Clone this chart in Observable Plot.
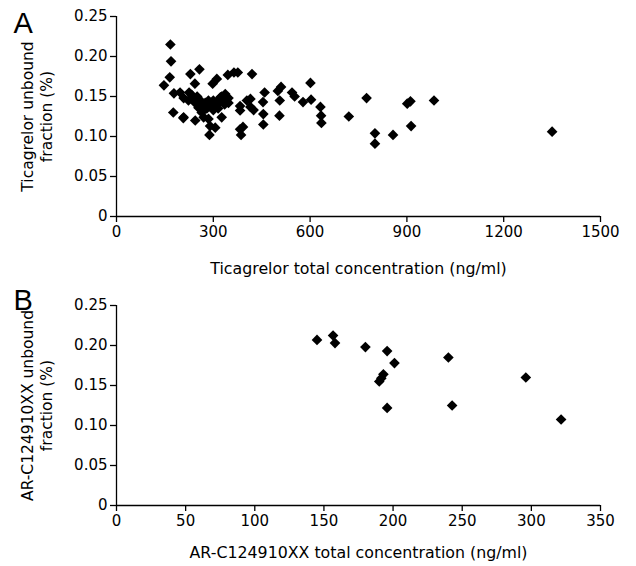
<!DOCTYPE html>
<html>
<head>
<meta charset="utf-8">
<script src="https://cdn.jsdelivr.net/npm/d3@7"></script>
<script src="https://cdn.jsdelivr.net/npm/@observablehq/plot@0.6"></script>
<style>
  html, body { margin: 0; padding: 0; background: #fff; }
  #chart svg { display: block; }
</style>
</head>
<body>
<div id="chart"></div>
<script>
// Panel A: Ticagrelor
const ticConc = [147,165,167,169,178,176,197,207,208,229,257,243,225,233,223,244,254,264,275,285,295,306,316,326,337,347,347,208,244,270,285,326,290,306,288,298,311,345,364,376,420,383,383,392,383,386,404,415,425,415,459,454,455,455,500,510,506,505,544,552,578,601,603,632,634,635,720,775,801,801,857,901,911,913,984,1350,260,270,280,300,315,335,238,250,320,300,290,310,322,338,262];
const ticFrac = [0.164,0.174,0.215,0.194,0.154,0.130,0.155,0.123,0.148,0.178,0.184,0.166,0.155,0.152,0.145,0.142,0.136,0.130,0.142,0.145,0.140,0.138,0.142,0.150,0.153,0.148,0.142,0.124,0.120,0.124,0.122,0.124,0.113,0.111,0.102,0.166,0.172,0.177,0.180,0.180,0.178,0.138,0.1325,0.112,0.109,0.102,0.145,0.147,0.133,0.137,0.155,0.143,0.128,0.115,0.157,0.162,0.145,0.126,0.155,0.150,0.143,0.167,0.146,0.137,0.126,0.117,0.125,0.148,0.104,0.091,0.102,0.141,0.144,0.113,0.145,0.106,0.145,0.138,0.135,0.133,0.135,0.140,0.148,0.150,0.145,0.145,0.138,0.143,0.149,0.146,0.140];

// Panel B: AR-C124910XX
const arcConc = [145,156.6,158,180,195.7,201,240,193,190,191.5,195.7,242.7,296,321.5];
const arcFrac = [0.207,0.2125,0.203,0.198,0.193,0.178,0.185,0.164,0.155,0.159,0.122,0.125,0.160,0.1075];

const xTicksA = [0,300,600,900,1200,1500];
const xTicksB = [0,50,100,150,200,250,300,350];
const yTicks = [0,0.05,0.10,0.15,0.20,0.25];

const labelsA = {x: "Ticagrelor total concentration (ng/ml)", y: "Ticagrelor unbound\nfraction (%)", panel: "A"};
const labelsB = {x: "AR-C124910XX total concentration (ng/ml)", y: "AR-C124910XX unbound\nfraction (%)", panel: "B"};

const font = "'DejaVu Sans', Verdana, sans-serif";
const yFmt = d => d === 0 ? "0" : d.toFixed(2);
const xFmt = d => String(d);

function panel(xs, ys, xDomain, xTicks, labels, opts) {
  const data = xs.map((x, i) => ({x, y: ys[i]}));
  return Plot.plot({
    width: 636,
    height: opts.height,
    marginLeft: 116,
    marginRight: 36,
    marginTop: opts.marginTop,
    marginBottom: opts.marginBottom,
    style: {fontFamily: font, fontSize: "15px", background: "#fff", color: "#000"},
    x: {domain: xDomain},
    y: {domain: [0, 0.25]},
    marks: [
      Plot.axisX({ticks: xTicks, tickSize: 6, tickPadding: 4, label: null, tickFormat: xFmt, fontSize: 15, strokeWidth: 1.3}),
      Plot.axisY({ticks: yTicks, tickSize: 6, tickPadding: 3, label: null, tickFormat: yFmt, fontSize: 15, strokeWidth: 1.3}),
      Plot.ruleX([0], {stroke: "#000", strokeWidth: 1.3}),
      Plot.ruleY([0], {stroke: "#000", strokeWidth: 1.3}),
      Plot.dot(data, {x: "x", y: "y", symbol: "diamond2", r: 4.8, fill: "#000", stroke: "none"}),
      Plot.text([labels.x], {frameAnchor: "bottom", dy: opts.xLabelDy, textAnchor: "middle", lineAnchor: "middle", fontSize: 15.8, fill: "#000"}),
      Plot.text([labels.y], {frameAnchor: "left", dx: -80, rotate: -90, textAnchor: "middle", lineAnchor: "middle", lineHeight: 1.2, fontSize: 15.5, fill: "#000"}),
      Plot.text([labels.panel], {frameAnchor: "top-left", dx: -103, dy: opts.panelDy, textAnchor: "start", lineAnchor: "bottom", fontSize: 29, fontFamily: "'Liberation Sans', Arial, sans-serif", fill: "#000"})
    ]
  });
}

const el = document.getElementById("chart");
el.append(panel(ticConc, ticFrac, [0, 1500], xTicksA, labelsA, {height: 285, marginTop: 16, marginBottom: 69, xLabelDy: 52, panelDy: 16}));
el.append(panel(arcConc, arcFrac, [0, 350], xTicksB, labelsB, {height: 281, marginTop: 20, marginBottom: 61, xLabelDy: 47, panelDy: 4}));
</script>
</body>
</html>
